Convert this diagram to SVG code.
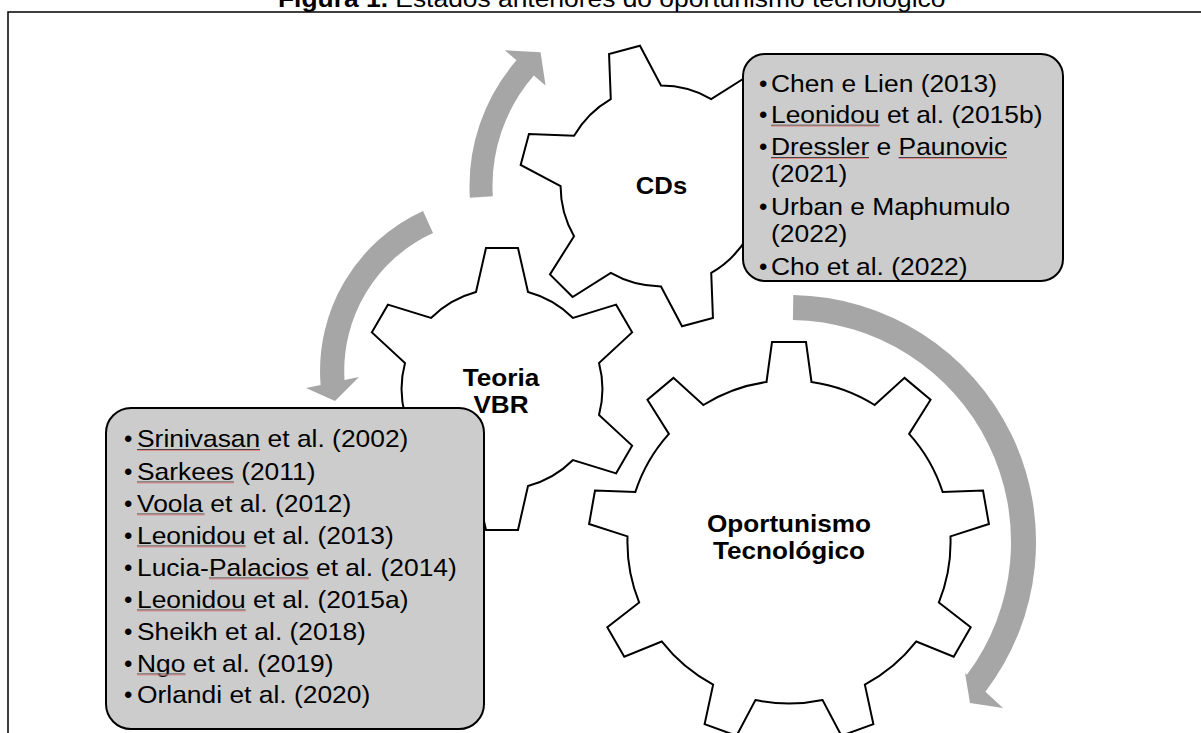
<svg xmlns="http://www.w3.org/2000/svg" xmlns:xlink="http://www.w3.org/1999/xlink" width="1201" height="733" viewBox="0 0 1201 733">
<style>
.gear{fill:#fff;stroke:#000;stroke-width:2;stroke-linejoin:miter}
.box{fill:#CCCCCC;stroke:#000;stroke-width:2}
.t{font-family:"Liberation Sans",Arial,sans-serif;font-size:24px;fill:#000}
.b{font-weight:bold}
.arrow{fill:#A6A6A6;stroke:none}
.ulk{stroke:#444;stroke-width:1}
.ulr{stroke:#E08A8A;stroke-width:1}
.frame{fill:none;stroke:#000;stroke-width:1.5}
</style>
<defs>
<path id="gear6" d="M-26,-97 L-16,-141 L16,-141 L26,-97 A100.4,100.4 0 0 1 71,-71.02 L114.11,-84.36 L130.11,-56.64 L97,-25.98 A100.4,100.4 0 0 1 97,25.98 L130.11,56.64 L114.11,84.36 L71,71.02 A100.4,100.4 0 0 1 26,97 L16,141 L-16,141 L-26,97 A100.4,100.4 0 0 1 -71,71.02 L-114.11,84.36 L-130.11,56.64 L-97,25.98 A100.4,100.4 0 0 1 -97,-25.98 L-130.11,-56.64 L-114.11,-84.36 L-71,-71.02 A100.4,100.4 0 0 1 -26,-97 Z"/>
<path id="gear9" d="M-22.5,-160 L-17,-200 L17,-200 L22.5,-160 A161.6,161.6 0 0 1 85.61,-137.02 L115.54,-164.13 L141.58,-142.27 L120.09,-108.1 A161.6,161.6 0 0 1 153.66,-49.94 L194.01,-51.46 L199.91,-17.98 L161.48,-5.62 A161.6,161.6 0 0 1 149.81,60.51 L181.7,85.28 L164.7,114.72 L127.31,99.49 A161.6,161.6 0 0 1 75.86,142.65 L84.37,182.13 L52.43,193.75 L33.58,158.05 A161.6,161.6 0 0 1 -33.58,158.05 L-52.43,193.75 L-84.37,182.13 L-75.86,142.65 A161.6,161.6 0 0 1 -127.31,99.49 L-164.7,114.72 L-181.7,85.28 L-149.81,60.51 A161.6,161.6 0 0 1 -161.48,-5.62 L-199.91,-17.98 L-194.01,-51.46 L-153.66,-49.94 A161.6,161.6 0 0 1 -120.09,-108.1 L-141.58,-142.27 L-115.54,-164.13 L-85.61,-137.02 A161.6,161.6 0 0 1 -22.5,-160 Z"/>
</defs>
<rect width="1201" height="733" fill="#fff"/>
<g id="title">
<text class="t" transform="translate(278,7) scale(1.1,1)"><tspan class="b">Figura 1.</tspan> Estados anteriores do oportunismo tecnológico</text>
</g>
<path class="frame" d="M8,734 L8,12 L1202,12"/>
<g id="connectors">
<path class="arrow" d="M469.86,197.69 A191.5,191.5 0 0 1 516.47,60.36 L504.78,50.2 L540.56,52.23 L545.53,85.62 L533.83,75.45 A168.5,168.5 0 0 0 492.82,196.29 Z"/>
<path class="arrow" d="M423,211 A175.8,175.8 0 0 0 320.6,385 L306,388 L335,401 L359,377 L344.5,380 A151.6,151.6 0 0 1 433,233 Z"/>
<path class="arrow" d="M793.3,295 A247,247 0 0 1 985.4,691.8 L1003,708 L970,703 L965,673 L966.9,674.8 A222,222 0 0 0 792.9,320 Z"/>
</g>
<g id="node-oportunismo">
<use xlink:href="#gear9" class="gear" transform="translate(789,542)"/>
<text class="t b" text-anchor="middle" transform="translate(789,531.7) scale(1.09,1)">Oportunismo</text>
<text class="t b" text-anchor="middle" transform="translate(789,558.5) scale(1.09,1)">Tecnológico</text>
</g>
<g id="node-vbr">
<use xlink:href="#gear6" class="gear" transform="translate(502,389)"/>
<text class="t b" text-anchor="middle" transform="translate(501,385.7) scale(1.09,1)">Teoria</text>
<text class="t b" text-anchor="middle" transform="translate(501,412.7) scale(1.09,1)">VBR</text>
</g>
<g id="node-cds">
<use xlink:href="#gear6" class="gear" transform="translate(661,186) rotate(-15)"/>
<text class="t b" text-anchor="middle" transform="translate(661.5,194) scale(1.07,1)">CDs</text>
</g>
<g id="box-vbr">
<rect class="box" x="106" y="408" width="378" height="321" rx="25" ry="25"/>
<g class="t">
<text x="124" y="447">•</text><text transform="translate(137,447) scale(1.1,1)">Srinivasan et al. (2002)</text>
<text x="124" y="479.5">•</text><text transform="translate(137,479.5) scale(1.1,1)">Sarkees (2011)</text>
<text x="124" y="511.5">•</text><text transform="translate(137,511.5) scale(1.1,1)">Voola et al. (2012)</text>
<text x="124" y="543.5">•</text><text transform="translate(137,543.5) scale(1.1,1)">Leonidou et al. (2013)</text>
<text x="124" y="575.5">•</text><text transform="translate(137,575.5) scale(1.1,1)">Lucia-Palacios et al. (2014)</text>
<text x="124" y="607.5">•</text><text transform="translate(137,607.5) scale(1.1,1)">Leonidou et al. (2015a)</text>
<text x="124" y="639.5">•</text><text transform="translate(137,639.5) scale(1.1,1)">Sheikh et al. (2018)</text>
<text x="124" y="671.5">•</text><text transform="translate(137,671.5) scale(1.1,1)">Ngo et al. (2019)</text>
<text x="124" y="703">•</text><text transform="translate(137,703) scale(1.1,1)">Orlandi et al. (2020)</text>
</g>
<path class="ulk" d="M137,449.5H260M137,482H234M137,514H204.5M137,546H245.6M209,578H308.7M137,610H245.6M137,674H185.4"/>
<path class="ulr" d="M137,450.5H260M137,483H234M137,515H204.5M137,547H245.6M209,579H308.7M137,611H245.6M137,675H185.4"/>
</g>
<g id="box-cds">
<rect class="box" x="743" y="54" width="320" height="227" rx="22" ry="22"/>
<g class="t">
<text x="759" y="91.7">•</text><text transform="translate(771,91.7) scale(1.1,1)">Chen e Lien (2013)</text>
<text x="759" y="122.7">•</text><text transform="translate(771,122.7) scale(1.1,1)">Leonidou et al. (2015b)</text>
<text x="759" y="155">•</text><text transform="translate(771,155) scale(1.1,1)">Dressler e Paunovic</text>
<text transform="translate(771,181.7) scale(1.1,1)">(2021)</text>
<text x="759" y="215">•</text><text transform="translate(771,215) scale(1.1,1)">Urban e Maphumulo</text>
<text transform="translate(771,242.3) scale(1.1,1)">(2022)</text>
<text x="759" y="275">•</text><text transform="translate(771,275) scale(1.1,1)">Cho et al. (2022)</text>
</g>
<path class="ulk" d="M771,125.2H879.6M771,157.5H869M898.6,157.5H1007"/>
<path class="ulr" d="M771,126.2H879.6M771,158.5H869M898.6,158.5H1007"/>
</g>
</svg>
